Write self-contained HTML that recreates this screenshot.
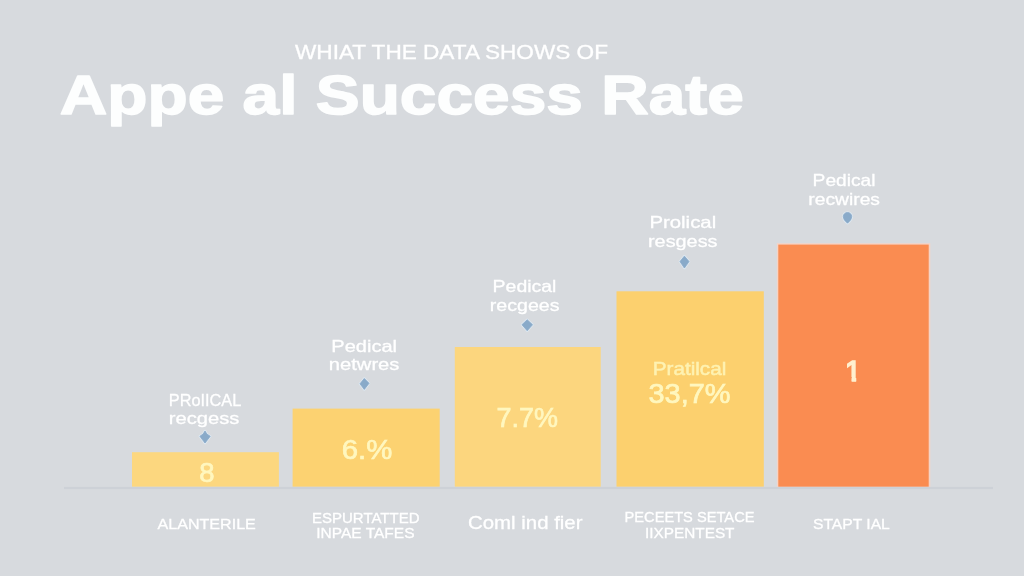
<!DOCTYPE html>
<html lang="en">
<head>
<meta charset="utf-8">
<title>Appe al Success Rate</title>
<style>
  html,body{margin:0;padding:0;}
  body{width:1024px;height:576px;overflow:hidden;background:#d7dade;font-family:"Liberation Sans",sans-serif;}
  svg{display:block;}
  text{font-family:"Liberation Sans",sans-serif;}
</style>
</head>
<body>
<svg width="1024" height="576" viewBox="0 0 1024 576">
  <rect width="1024" height="576" fill="#d7dade"/>

  <defs>
    <filter id="soft" x="0" y="0" width="1024" height="576" filterUnits="userSpaceOnUse">
      <feGaussianBlur stdDeviation="0.35"/>
    </filter>
    <filter id="softer" x="0" y="0" width="1024" height="576" filterUnits="userSpaceOnUse">
      <feGaussianBlur stdDeviation="0.7"/>
    </filter>
    <clipPath id="one"><path d="M840 355 H860 V377 H856.2 V384 H851.6 V377 H840 Z"/></clipPath>
  </defs>
  <g filter="url(#soft)">
  <!-- heading -->
  <text x="295" y="58.5" font-size="19.3" fill="#ffffff" stroke="#ffffff" stroke-width="0.3" textLength="313" lengthAdjust="spacingAndGlyphs">WHIAT THE DATA SHOWS OF</text>
  <text x="59.8" y="113.5" font-size="56" font-weight="bold" fill="#fdfefe" stroke="#fdfefe" stroke-width="1.5" stroke-linejoin="round" textLength="684" lengthAdjust="spacingAndGlyphs">Appe al Success Rate</text>

  </g>
  <!-- bars -->
  <g filter="url(#softer)">
  <rect x="132" y="452.2" width="146.9" height="34.5" fill="#fcd77f"/>
  <rect x="292.6" y="408.6" width="147.1" height="78.1" fill="#fcd271"/>
  <rect x="454.8" y="347" width="145.9" height="139.7" fill="#fcd67e"/>
  <rect x="616.5" y="291.3" width="147.3" height="195.4" fill="#fcd06e"/>
  <rect x="776.9" y="243.2" width="153.4" height="243.6" fill="#f6d3c5"/>
  <rect x="778.3" y="244.6" width="150.4" height="242.1" fill="#fa8c51"/>
  <!-- axis -->
  <rect x="64" y="486.9" width="929" height="2.2" fill="#cbcfd6" opacity="0.85"/>
  </g>
  <g filter="url(#soft)">
  <!-- callouts -->
  <g font-size="16.5" fill="#ffffff" stroke="#ffffff" stroke-width="0.3">
    <text x="168.8" y="405.6" textLength="72.5" lengthAdjust="spacingAndGlyphs">PRoIICAL</text>
    <text x="168.8" y="424.4" font-size="16.8" textLength="70.6" lengthAdjust="spacingAndGlyphs">recgess</text>
    <text x="331.3" y="351.5" textLength="65.7" lengthAdjust="spacingAndGlyphs">Pedical</text>
    <text x="328.8" y="370.4" font-size="16.8" textLength="70.6" lengthAdjust="spacingAndGlyphs">netwres</text>
    <text x="492.6" y="291.6" textLength="63.8" lengthAdjust="spacingAndGlyphs">Pedical</text>
    <text x="489.8" y="310.7" font-size="16.8" textLength="69.7" lengthAdjust="spacingAndGlyphs">recgees</text>
    <text x="649.4" y="228.2" textLength="66.8" lengthAdjust="spacingAndGlyphs">Prolical</text>
    <text x="648" y="247" font-size="16.8" textLength="69.5" lengthAdjust="spacingAndGlyphs">resgess</text>
    <text x="812.6" y="185.5" textLength="62.9" lengthAdjust="spacingAndGlyphs">Pedical</text>
    <text x="808.3" y="204.7" font-size="16.8" textLength="71.7" lengthAdjust="spacingAndGlyphs">recwires</text>
  </g>
  <g fill="#dce8f2" stroke="#dce8f2" stroke-width="2.6" stroke-linejoin="round" opacity="0.85">
    <path d="M205 431 L206.8 434 L210.2 436.3 L205 443 L199.9 436.3 L203.2 434 Z"/>
    <path d="M364.3 378.5 L369 383.3 L364.3 389.4 L360 383.8 Z"/>
    <path d="M527.2 319.8 L532.5 324.7 L527.2 330.7 L522 324.7 Z"/>
    <path d="M684.4 256.2 L689 261.5 L684.4 268 L680 261.5 Z"/>
    <path d="M847.5 212.5 a4.2 4.2 0 0 1 4.2 4.2 q0 3 -4.2 6.5 q-4.2 -3.5 -4.2 -6.5 a4.2 4.2 0 0 1 4.2 -4.2 Z"/>
  </g>
  <g fill="#89aac9" stroke="#89aac9" stroke-width="0.8" stroke-linejoin="round">
    <path d="M205 431 L206.8 434 L210.2 436.3 L205 443 L199.9 436.3 L203.2 434 Z"/>
    <path d="M364.3 378.5 L369 383.3 L364.3 389.4 L360 383.8 Z"/>
    <path d="M527.2 319.8 L532.5 324.7 L527.2 330.7 L522 324.7 Z"/>
    <path d="M684.4 256.2 L689 261.5 L684.4 268 L680 261.5 Z"/>
    <path d="M847.5 212.5 a4.2 4.2 0 0 1 4.2 4.2 q0 3 -4.2 6.5 q-4.2 -3.5 -4.2 -6.5 a4.2 4.2 0 0 1 4.2 -4.2 Z"/>
  </g>

  <!-- values -->
  <g fill="#fff7bf" stroke="#fff7bf" stroke-width="0.7" text-anchor="middle">
    <text x="207" y="482" font-size="27.5">8</text>
    <text x="367" y="458.8" font-size="28" textLength="50.5" lengthAdjust="spacingAndGlyphs">6.%</text>
    <text x="527.2" y="427" font-size="28.5" textLength="61.5" lengthAdjust="spacingAndGlyphs">7.7%</text>
    <text x="689.5" y="375.4" font-size="19" fill="#fef2b2" stroke="#fef2b2" stroke-width="0.5" textLength="73.5" lengthAdjust="spacingAndGlyphs">Pratilcal</text>
    <text x="689.5" y="402.5" font-size="27.2" textLength="82" lengthAdjust="spacingAndGlyphs">33,7%</text>
    <text x="853.1" y="381.2" font-size="29" fill="#fff0cf" stroke="#fff0cf" stroke-width="1.6" clip-path="url(#one)">1</text>
  </g>

  <!-- categories -->
  <g font-size="14.6" fill="#ffffff" stroke="#ffffff" stroke-width="0.3">
    <text x="157.5" y="529.2" font-size="15.4" textLength="98.3" lengthAdjust="spacingAndGlyphs">ALANTERILE</text>
    <text x="312" y="522.5" textLength="107.5" lengthAdjust="spacingAndGlyphs">ESPURTATTED</text>
    <text x="316.3" y="538.3" textLength="98.2" lengthAdjust="spacingAndGlyphs">INPAE TAFES</text>
    <text x="468" y="528.7" font-size="19" textLength="114.5" lengthAdjust="spacingAndGlyphs">Coml ind fier</text>
    <text x="624.5" y="522.3" textLength="130" lengthAdjust="spacingAndGlyphs">PECEETS SETACE</text>
    <text x="645" y="538.3" textLength="89.5" lengthAdjust="spacingAndGlyphs">IIXPENTEST</text>
    <text x="813" y="528.8" font-size="15.4" textLength="76.8" lengthAdjust="spacingAndGlyphs">STAPT IAL</text>
  </g>
  </g>
</svg>
</body>
</html>
